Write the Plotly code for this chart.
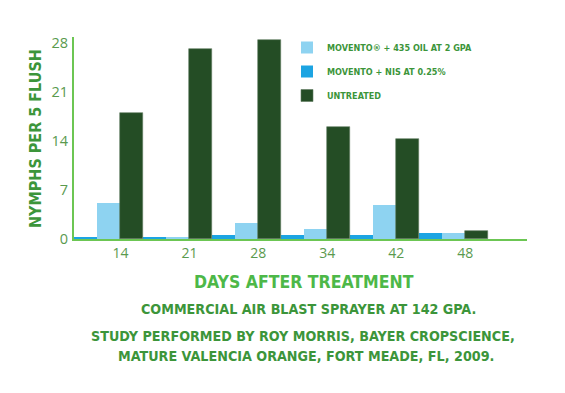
import plotly.graph_objects as go

days = ["14", "21", "28", "34", "42", "48"]
nis = [0.3, 0.3, 0.5, 0.6, 0.6, 0.8]
oil = [5.1, 0.2, 2.3, 1.4, 4.9, 0.9]
untreated = [18.0, 27.1, 28.4, 16.0, 14.3, 1.1]
y_ticks = [0, 7, 14, 21, 28]

GREEN = "#3c953a"
TITLE_GREEN = "#4db848"
TICK_GREEN = "#5a9a4e"
AXIS_GREEN = "#6cc653"
FONT = "DejaVu Sans Condensed, sans-serif"

# the page body adds an 8px offset; plot area wanted at x 74..527, y 37..239 (window px)
L, R, T, B = 74 - 8, 565 - (527 - 8), 37 - 8, 393 - (239 - 8)
PW = 527 - 74
PH = 239 - 37

fig = go.Figure()
fig.add_trace(go.Bar(x=days, y=nis, name="MOVENTO + NIS AT 0.25%", legendgroup="b",
                     marker=dict(color="#1ca4e2", line=dict(width=0)), legendrank=2))
fig.add_trace(go.Bar(x=days, y=oil, name="MOVENTO® + 435 OIL AT 2 GPA", legendgroup="a",
                     marker=dict(color="#8ed3f1", line=dict(width=0)), legendrank=1))
fig.add_trace(go.Bar(x=days, y=untreated, name="UNTREATED", legendgroup="c",
                     marker=dict(color="#244d25", line=dict(width=0.6, color="#5f7a5f")),
                     legendrank=3))

fig.update_layout(
    width=565, height=393,
    margin=dict(l=L, r=R, t=T, b=B, autoexpand=False),
    paper_bgcolor="white", plot_bgcolor="white",
    barmode="group", bargap=0, bargroupgap=0,
    showlegend=True,
    legend=dict(x=(287 - 74) / PW, y=1 + 4 / PH, xanchor="left", yanchor="top",
                font=dict(family=FONT, size=9, color=GREEN, weight="bold"),
                bgcolor="rgba(0,0,0,0)", traceorder="grouped",
                itemwidth=30, tracegroupgap=5),
    font=dict(family=FONT),
)
fig.update_xaxes(type="category", range=[-0.5, 6.07],
                 showline=True, linecolor=AXIS_GREEN, linewidth=2,
                 showgrid=False, ticks="", ticklabelshift=12,
                 tickfont=dict(family="Open Sans, sans-serif", size=14, color=TICK_GREEN))
fig.update_yaxes(range=[0, 28.8], tickvals=y_ticks,
                 showline=True, linecolor=AXIS_GREEN, linewidth=2,
                 showgrid=False, zeroline=False, ticks="", ticklabelstandoff=1,
                 tickfont=dict(family="Open Sans, sans-serif", size=14.5, color=TICK_GREEN))

def px_x(x):
    return (x - 74) / PW

def px_y(y):
    return (239 - y) / PH

fig.add_annotation(text="<b>NYMPHS PER 5 FLUSH</b>", textangle=-90,
                   xref="paper", yref="paper", x=px_x(35), y=px_y(139),
                   xanchor="center", yanchor="middle", showarrow=False,
                   font=dict(family=FONT, size=16, color=GREEN))
fig.add_annotation(text="<b>DAYS AFTER TREATMENT</b>",
                   xref="paper", yref="paper", x=px_x(304), y=px_y(282),
                   xanchor="center", yanchor="middle", showarrow=False,
                   font=dict(family=FONT, size=17.5, color=TITLE_GREEN))
fig.add_annotation(text="<b>COMMERCIAL AIR BLAST SPRAYER AT 142 GPA.</b>",
                   xref="paper", yref="paper", x=px_x(308), y=px_y(309),
                   xanchor="center", yanchor="middle", showarrow=False,
                   font=dict(family=FONT, size=14.2, color=GREEN))
fig.add_annotation(text="<b>STUDY PERFORMED BY ROY MORRIS, BAYER CROPSCIENCE,</b>",
                   xref="paper", yref="paper", x=px_x(303), y=px_y(336),
                   xanchor="center", yanchor="middle", showarrow=False,
                   font=dict(family=FONT, size=14.2, color=GREEN))
fig.add_annotation(text="<b>MATURE VALENCIA ORANGE, FORT MEADE, FL, 2009.</b>",
                   xref="paper", yref="paper", x=px_x(306), y=px_y(356),
                   xanchor="center", yanchor="middle", showarrow=False,
                   font=dict(family=FONT, size=14.2, color=GREEN))

fig.write_html("out.html")
